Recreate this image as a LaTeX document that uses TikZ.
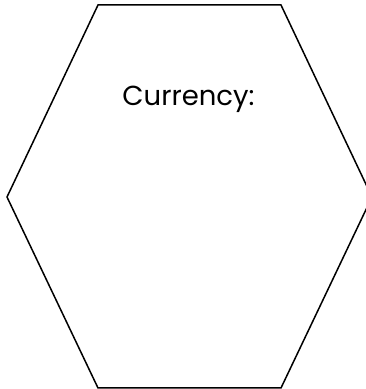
\documentclass[tikz,border=0pt]{standalone}
\usepackage{fontspec}
\setmainfont{Poppins}
\tikzset{hexline/.style={draw=black,line width=1.5pt,line join=miter},
  labeltext/.style={font=\fontsize{27.5}{33}\selectfont,inner sep=0pt,anchor=base}}
\begin{document}
\begin{tikzpicture}[x=1pt,y=1pt]
\useasboundingbox (0,0) rectangle (366,389);
\begin{scope}
\clip (0,0) rectangle (366,389);
\draw[hexline] (98,384) -- (281,384) -- (372,192) -- (281,1) -- (98,1) -- (7,192) -- cycle;
\end{scope}
\node[labeltext] (title) at (188.5,283) {Currency:};
\end{tikzpicture}
\end{document}
